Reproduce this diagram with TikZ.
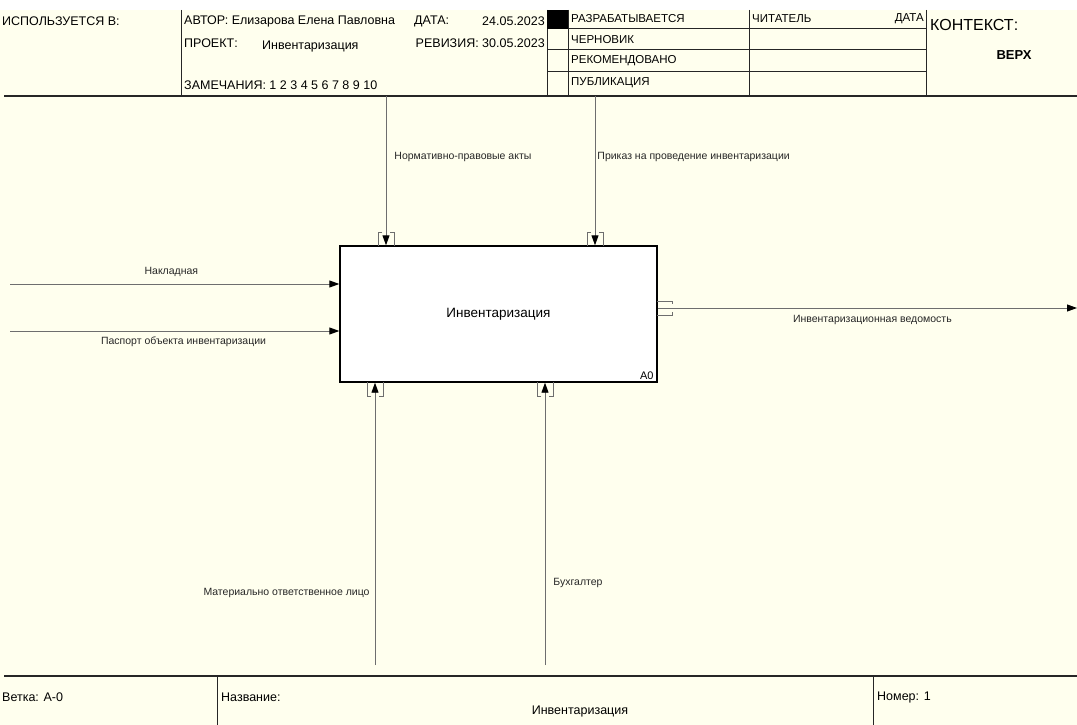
\documentclass[tikz,border=0pt]{standalone}
\usepackage{fontspec}
\setmainfont{Liberation Sans}
\usepackage{tikz}
\usetikzlibrary{positioning,arrows.meta,calc}
\definecolor{paper}{RGB}{255,255,238}
\definecolor{flow}{RGB}{110,110,110}

\begin{document}
\begin{tikzpicture}[x=1pt, y=-1pt]
\tikzset{
    frame/.style={draw=black!85, line width=1pt},
    rule/.style={draw=black!85, line width=1.8pt},
    func/.style={rectangle, draw=black, line width=1.4pt, fill=white, minimum width=317pt, minimum height=136pt, inner sep=0pt, font=\fontsize{13.5}{16}\selectfont},
    head/.style={inner sep=0pt, font=\fontsize{12.5}{15}\selectfont},
    cell/.style={inner sep=0pt, font=\fontsize{11.5}{14}\selectfont},
    lbl/.style={inner sep=0pt, font=\fontsize{10.5}{12}\selectfont, text=black!85},
    arrow/.style={draw=flow, line width=0.9pt, -{Triangle[length=10pt, width=7pt, black]}},
    tunnel/.style={draw=flow, line width=0.9pt}
}
\fill[white] (0,0) rectangle (1077,725);
\fill[paper] (0,10) rectangle (1077,725);
\useasboundingbox (0,0) rectangle (1077,725);

\draw[frame] (181,10) -- (181,96);
\foreach \x in {547,568,749,926} \draw[frame] (\x,10) -- (\x,96);
\foreach \y in {29,50,72} \draw[frame] (547,\y) -- (926,\y);
\fill[black] (547,10) rectangle (568,29);
\draw[rule] (4,96) -- (1077,96);

\node[head, anchor=west] (used) at (2,21) {ИСПОЛЬЗУЕТСЯ В:};
\node[head, anchor=west] (author) at (184,21) {АВТОР: Елизарова Елена Павловна};
\node[head, anchor=west] (date) at (414,21) {ДАТА:};
\node[head, anchor=east] (dateval) at (545,21) {24.05.2023};
\node[head, anchor=west] (project) at (184,43) {ПРОЕКТ:};
\node[head, anchor=west] (projval) at (262,46) {Инвентаризация};
\node[head, anchor=east] (rev) at (545,43) {РЕВИЗИЯ: 30.05.2023};
\node[head, anchor=west] (notes) at (184,85) {ЗАМЕЧАНИЯ: 1 2 3 4 5 6 7 8 9 10};

\node[cell, anchor=west] (work) at (571,19) {РАЗРАБАТЫВАЕТСЯ};
\node[cell, anchor=west] (draft) at (571,40) {ЧЕРНОВИК};
\node[cell, anchor=west] (recom) at (571,61) {РЕКОМЕНДОВАНО};
\node[cell, anchor=west] (publ) at (571,83) {ПУБЛИКАЦИЯ};
\node[cell, anchor=west] (reader) at (752,19) {ЧИТАТЕЛЬ};
\node[cell, anchor=east] (rdate) at (924,19) {ДАТА};
\node[inner sep=0pt, anchor=west, font=\fontsize{16}{19}\selectfont] (context) at (930,25) {КОНТЕКСТ:};
\node[inner sep=0pt, font=\bfseries\fontsize{13}{16}\selectfont] (top) at (1014,55) {ВЕРХ};

\node[func] (box) at (498.5,314) {Инвентаризация};
\node[inner sep=0pt, anchor=south east, font=\fontsize{11}{13}\selectfont] (num) at ($(box.south east)+(-4,-3)$) {A0};

\coordinate (norm) at (386,96);
\coordinate (order) at (595,96);
\coordinate (invoice) at (10,284);
\coordinate (passport) at (10,331);
\coordinate (mol) at (375,665);
\coordinate (acc) at (545,665);
\coordinate (sheet) at (1077,308);

\draw[arrow] (norm) -- node[lbl, right=8pt, pos=0.41]{Нормативно-правовые акты} (norm |- box.north);
\draw[arrow] (order) -- node[lbl, right=2pt, pos=0.41]{Приказ на проведение инвентаризации} (order |- box.north);
\draw[arrow] (invoice) -- node[lbl, above=7pt, pos=0.49]{Накладная} (invoice -| box.west);
\draw[arrow] (passport) -- node[lbl, below=5pt, pos=0.527]{Паспорт объекта инвентаризации} (passport -| box.west);
\draw[arrow] (sheet -| box.east) -- node[lbl, below=7pt, pos=0.512]{Инвентаризационная ведомость} (sheet);
\draw[arrow] (mol) -- node[lbl, left=5pt, pos=0.254]{Материально ответственное лицо} (mol |- box.south);
\draw[arrow] (acc) -- node[lbl, right=8pt, pos=0.29]{Бухгалтер} (acc |- box.south);

\foreach \c in {386,595} {
    \draw[tunnel] (\c-4,232) -| (\c-8,246);
    \draw[tunnel] (\c+4,232) -| (\c+8,246);
}
\foreach \c in {375,545} {
    \draw[tunnel] (\c-4,396) -| (\c-8,382);
    \draw[tunnel] (\c+4,396) -| (\c+8,382);
}
\draw[tunnel] (657,301) -| (672,304);
\draw[tunnel] (657,315) -| (672,312);

\draw[rule] (4,676) -- (1077,676);
\draw[frame] (217,676) -- (217,725);
\draw[frame] (873,676) -- (873,725);
\node[head, anchor=west] (branch) at (2,697) {Ветка: А-0};
\node[head, anchor=west] (title) at (221,697) {Название:};
\node[head] (titleval) at (580,711) {Инвентаризация};
\node[head, anchor=west] (page) at (877,697) {Номер: 1};
\end{tikzpicture}
\end{document}
